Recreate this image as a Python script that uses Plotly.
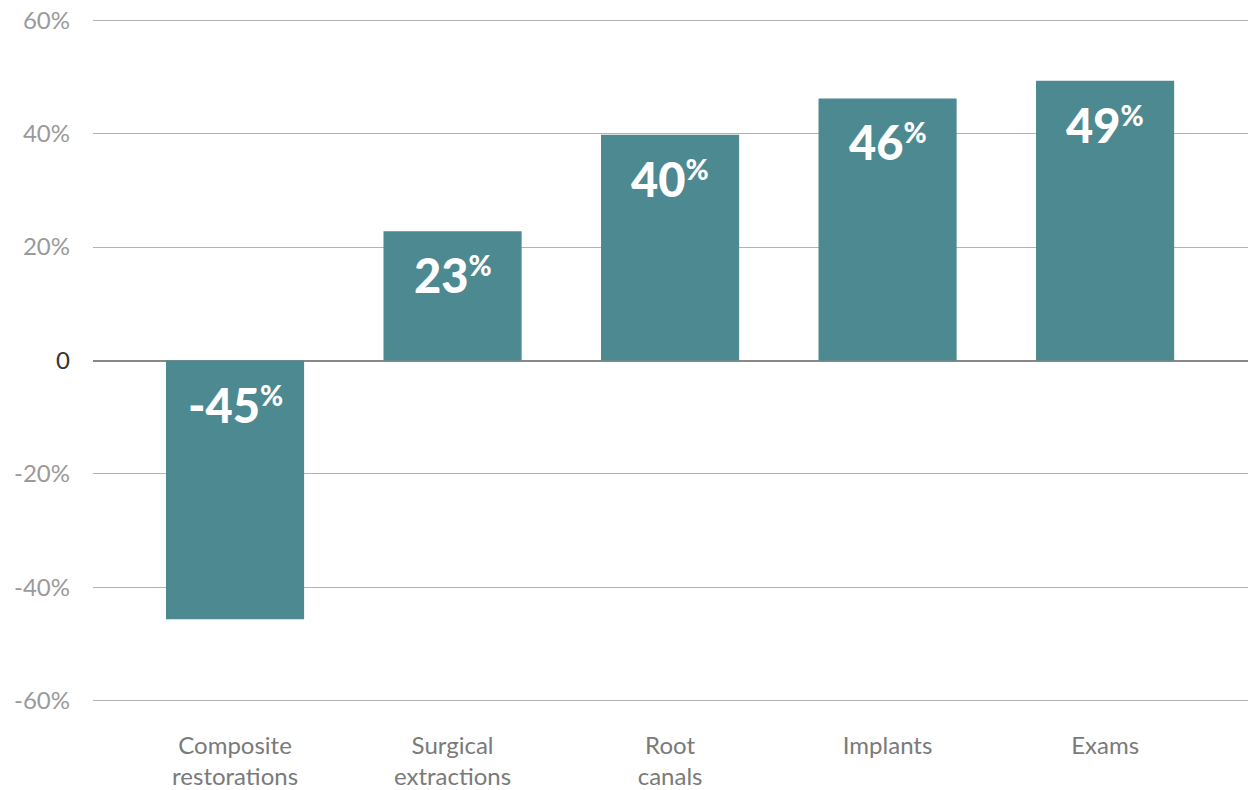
import plotly.graph_objects as go

categories = ["Composite<br>restorations", "Surgical<br>extractions", "Root<br>canals", "Implants", "Exams"]
values = [-45.6, 22.8, 39.8, 46.2, 49.3]
labels = ["-45", "23", "40", "46", "49"]
tick_vals = [-60, -40, -20, 0, 20, 40, 60]
tick_text = ["-60%", "-40%", "-20%", "<span style='color:#333333'>0</span>", "20%", "40%", "60%"]

BAR = "#4d8990"

fig = go.Figure()
fig.add_trace(go.Bar(
    x=categories, y=values,
    marker=dict(color=BAR, line=dict(width=0)),
    width=0.635,
    hoverinfo="skip",
))

for c, v, lab in zip(categories, values, labels):
    fig.add_annotation(
        x=c, y=max(v, 0), xref="x", yref="y",
        text=f"{lab}<span style='font-size:40px'><sup>%</sup></span>",
        showarrow=False, yanchor="top", yshift=-14,
        font=dict(family="Lato", size=47, color="white", weight=900),
    )

fig.update_layout(
    width=1248, height=790,
    margin=dict(l=93, r=0, t=19, b=76),
    plot_bgcolor="white", paper_bgcolor="white",
    showlegend=False,
    xaxis=dict(
        range=[-0.653, 4.657],
        showgrid=False, zeroline=False, showline=False,
        ticks="", tickfont=dict(family="Lato", size=24, color="#7a7a7a"),
        ticklabelstandoff=27,
    ),
    yaxis=dict(
        range=[-60.2, 60.2],
        tickvals=tick_vals, ticktext=tick_text,
        showgrid=True, gridcolor="#b3b3b3", gridwidth=1,
        zeroline=True, zerolinecolor="#888888", zerolinewidth=1.5,
        showline=False, ticks="",
        tickfont=dict(family="Lato", size=24, color="#9a9a9a"),
        ticklabelstandoff=22,
    ),
    bargap=0.365,
)

post = (
    "document.body.style.margin='0';"
    "document.body.style.overflow='hidden';"
    "var gd=document.getElementsByClassName('plotly-graph-div')[0];"
    "gd.style.position='fixed';gd.style.top='0px';gd.style.left='0px';"
)
fig.write_html("out.html", post_script=post, config={"displayModeBar": False})
